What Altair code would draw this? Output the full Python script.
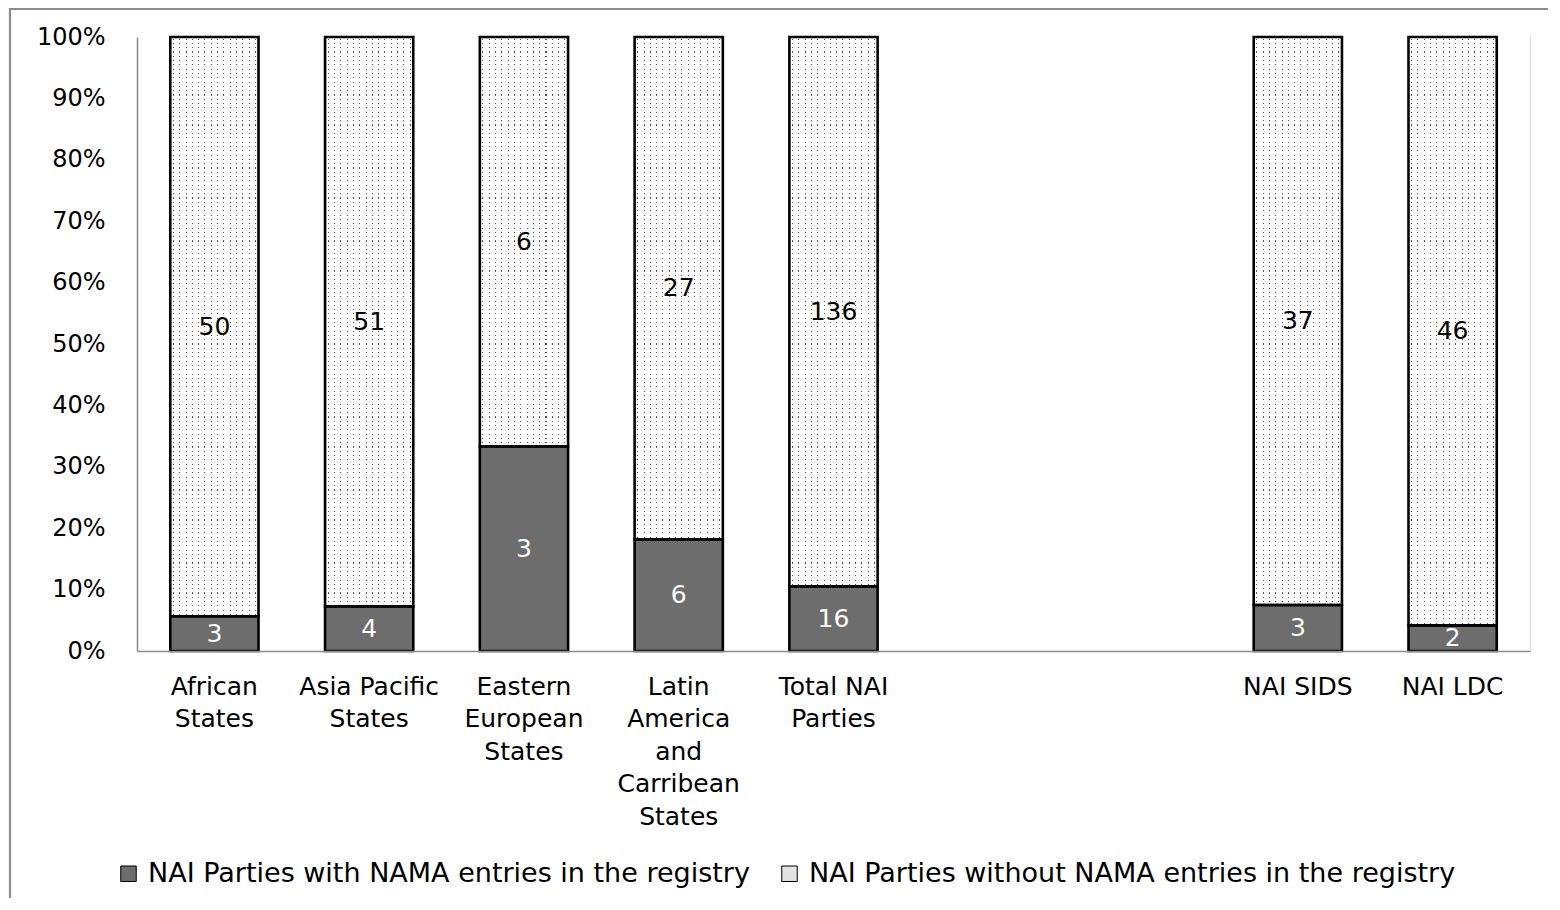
import json
import altair as alt
import pandas as pd

# ---- data ----
categories = [
    "African States",
    "Asia Pacific States",
    "Eastern European States",
    "Latin America and Carribean States",
    "Total NAI Parties",
    "NAI SIDS",
    "NAI LDC",
]
with_nama = [3, 4, 3, 6, 16, 3, 2]
without_nama = [50, 51, 6, 27, 136, 37, 46]
series = [
    "NAI Parties with NAMA entries in the registry",
    "NAI Parties without NAMA entries in the registry",
]
axis_order = categories[:5] + ["gap1", "gap2"] + categories[5:]
label_lines = {
    "African States": ["African", "States"],
    "Asia Pacific States": ["Asia Pacific", "States"],
    "Eastern European States": ["Eastern", "European", "States"],
    "Latin America and Carribean States": ["Latin", "America", "and", "Carribean", "States"],
    "Total NAI Parties": ["Total NAI", "Parties"],
    "NAI SIDS": ["NAI SIDS"],
    "NAI LDC": ["NAI LDC"],
}
y_ticks = [i / 10 for i in range(11)]

# ---- build table ----
rows = []
for c, w, wo in zip(categories, with_nama, without_nama):
    t = w + wo
    f = w / t
    rows.append({"cat": c, "series": series[0], "n": w, "start": 0.0, "end": f, "mid": f / 2})
    rows.append({"cat": c, "series": series[1], "n": wo, "start": f, "end": 1.0, "mid": (f + 1) / 2})
df = pd.DataFrame(rows)
df_with = df[df.series == series[0]]
df_without = df[df.series == series[1]]
one = pd.DataFrame({"k": [0]})

FONT = "DejaVu Sans"
DARK = "#6d6d6d"
GRAY = "#8c8c8c"
W, H = 1393, 614

# ---- dotted texture: vertical stripes x horizontal white bands ----
def stripe_stops(n, frac, on, off):
    stops = [alt.GradientStop(color=off, offset=0)]
    for i in range(n):
        c = (i + 0.5) / n
        a, b = max(0.0, c - frac / 2), min(1.0, c + frac / 2)
        stops += [
            alt.GradientStop(color=off, offset=round(a, 6)),
            alt.GradientStop(color=on, offset=round(a, 6)),
            alt.GradientStop(color=on, offset=round(b, 6)),
            alt.GradientStop(color=off, offset=round(b, 6)),
        ]
    stops.append(alt.GradientStop(color=off, offset=1))
    return stops

col_grad = alt.LinearGradient(
    gradient="linear", x1=0, x2=1, y1=0, y2=0,
    stops=stripe_stops(14, 1.0 / 88, "#555555", "#ffffff"),
)
row_grad = alt.LinearGradient(
    gradient="linear", x1=0, x2=0, y1=0, y2=1,
    stops=stripe_stops(143, 1.1 / H, "rgba(255,255,255,0)", "#ffffff"),
)

label_expr = "''"
for k in reversed(categories):
    label_expr = f"datum.value == '{k}' ? {json.dumps(label_lines[k])} : {label_expr}"

x_enc = alt.X(
    "cat:N",
    sort=axis_order,
    scale=alt.Scale(domain=axis_order, paddingInner=0.43, paddingOuter=0.215),
    axis=alt.Axis(
        title=None, labelAngle=0, labelExpr=label_expr, ticks=False,
        labelPadding=23, labelLineHeight=32.5, labelFontSize=25,
        domainColor=GRAY, domainWidth=1.5, labelColor="#000000", zindex=1,
    ),
)
y_scale = alt.Scale(domain=[0, 1], nice=False)
y_enc = alt.Y(
    "start:Q", scale=y_scale,
    axis=alt.Axis(
        title=None, format=".0%", values=y_ticks, grid=False, ticks=False,
        labelPadding=32, labelFontSize=24, domainColor=GRAY, domainWidth=1.5,
        labelColor="#000000", zindex=1,
    ),
)

legend_layer = alt.Chart(df).mark_bar().encode(
    x=x_enc, y=y_enc, y2="end:Q",
    color=alt.Color(
        "series:N",
        scale=alt.Scale(domain=series, range=[DARK, "#e2e2e2"]),
        legend=alt.Legend(
            title=None, orient="none", direction="horizontal",
            legendX=-22, legendY=823, symbolType="square", symbolSize=240,
            symbolStrokeColor="#000000", symbolStrokeWidth=1, symbolOpacity=1,
            labelFontSize=27, labelColor="#000000", columnPadding=26,
            labelOffset=6, padding=0, labelLimit=0,
        ),
    ),
)

stripes = alt.Chart(df_without).mark_bar(fill=col_grad, strokeWidth=0).encode(
    x=x_enc, y=y_enc, y2="end:Q"
)

rows_overlay = alt.Chart(one).mark_rect(fill=row_grad, strokeWidth=0).encode(
    x=alt.value(0), x2=alt.value("width"), y=alt.value(0), y2=alt.value("height")
)

dark_bars = alt.Chart(df_with).mark_bar(fill=DARK, strokeWidth=0).encode(
    x=x_enc, y=y_enc, y2="end:Q"
)

outlines = alt.Chart(df).mark_bar(
    fillOpacity=0, stroke="#000000", strokeWidth=2.6
).encode(x=x_enc, y=y_enc, y2="end:Q")

txt_with = alt.Chart(df_with).mark_text(
    font=FONT, fontSize=25, color="#ffffff", baseline="middle"
).encode(x=x_enc, y=alt.Y("mid:Q", scale=y_scale), text="n:Q")

txt_without = alt.Chart(df_without).mark_text(
    font=FONT, fontSize=25, color="#000000", baseline="middle"
).encode(x=x_enc, y=alt.Y("mid:Q", scale=y_scale), text="n:Q")

border = alt.Chart(one).mark_rect(
    fillOpacity=0, stroke=GRAY, strokeWidth=2.2, clip=False
).encode(
    x=alt.value(-127), x2=alt.value(1700), y=alt.value(-28.2), y2=alt.value(1100)
)

chart = alt.layer(
    legend_layer, stripes, rows_overlay, dark_bars, outlines,
    txt_with, txt_without, border,
).properties(
    width=W, height=H,
    padding={"left": 129, "top": 29, "right": 18, "bottom": 247},
    autosize=alt.AutoSizeParams(type="none"),
).configure_view(strokeWidth=0).configure(
    font=FONT
).configure_axis(labelFont=FONT).configure_legend(labelFont=FONT)

chart.save("out.html", embed_options={"renderer": "svg", "actions": False})
